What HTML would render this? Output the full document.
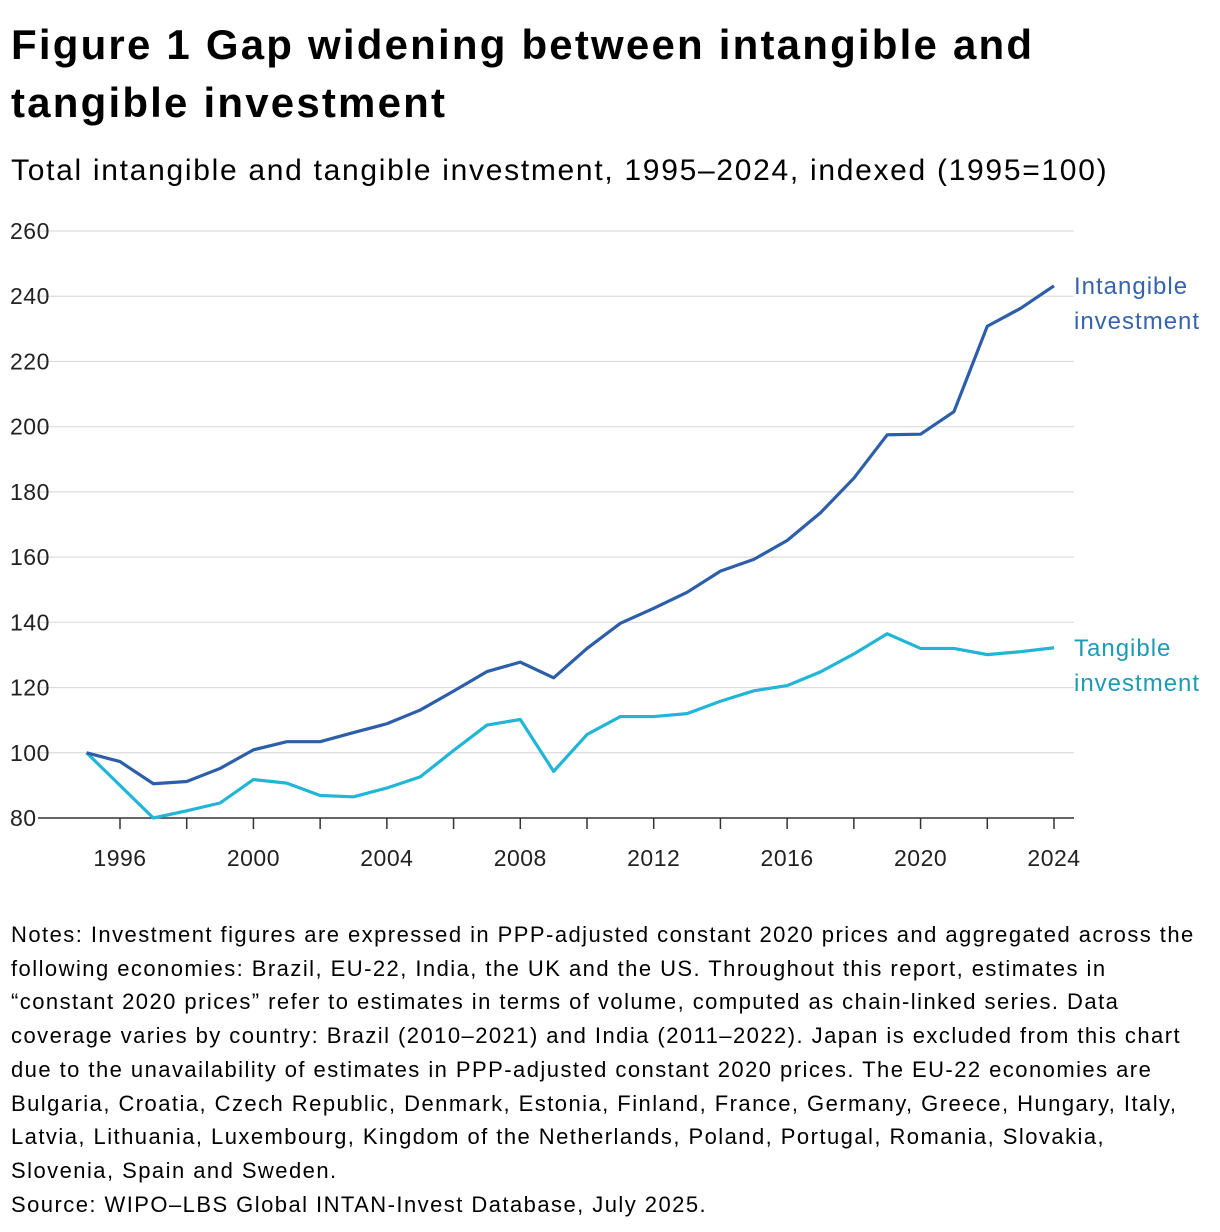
<!DOCTYPE html>
<html><head><meta charset="utf-8"><style>
body{margin:0;background:#fff;width:1220px;height:1232px;overflow:hidden;font-family:"Liberation Sans","DejaVu Sans",sans-serif;color:#000}
#title{position:absolute;left:11px;top:16px;font-size:42px;font-weight:bold;line-height:58px;letter-spacing:2.2px;white-space:nowrap}
#subtitle{position:absolute;left:11px;top:154px;font-size:30px;letter-spacing:1.7px;white-space:nowrap}
#notes{position:absolute;left:11px;top:918px;width:1210px;font-size:22px;line-height:33.7px;letter-spacing:1.45px;white-space:nowrap}
svg{position:absolute;left:0;top:0}
</style></head><body>
<div id="title">Figure 1 Gap widening between intangible and<br>tangible investment</div>
<div id="subtitle">Total intangible and tangible investment, 1995–2024, indexed (1995=100)</div>
<svg id="chart" width="1220" height="900"></svg>
<div id="notes">Notes: Investment figures are expressed in PPP-adjusted constant 2020 prices and aggregated across the<br>following economies: Brazil, EU-22, India, the UK and the US. Throughout this report, estimates in<br>“constant 2020 prices” refer to estimates in terms of volume, computed as chain-linked series. Data<br>coverage varies by country: Brazil (2010–2021) and India (2011–2022). Japan is excluded from this chart<br>due to the unavailability of estimates in PPP-adjusted constant 2020 prices. The EU-22 economies are<br>Bulgaria, Croatia, Czech Republic, Denmark, Estonia, Finland, France, Germany, Greece, Hungary, Italy,<br>Latvia, Lithuania, Luxembourg, Kingdom of the Netherlands, Poland, Portugal, Romania, Slovakia,<br>Slovenia, Spain and Sweden.<br>Source: WIPO–LBS Global INTAN-Invest Database, July 2025.</div>
<script>
const years=[1995,1996,1997,1998,1999,2000,2001,2002,2003,2004,2005,2006,2007,2008,2009,2010,2011,2012,2013,2014,2015,2016,2017,2018,2019,2020,2021,2022,2023,2024];
const intangible=[100,97.3,90.5,91.2,95.2,100.9,103.4,103.4,106.2,108.9,113.1,118.9,124.9,127.8,123,132,139.7,144.3,149.2,155.7,159.3,165.1,173.6,184.2,197.5,197.7,204.6,230.8,236.3,243.2];
const tangible=[100,90,80,82.2,84.6,91.8,90.7,86.9,86.5,89.2,92.6,100.7,108.5,110.2,94.3,105.6,111.1,111.1,112,115.8,119,120.6,124.8,130.3,136.5,132,132,130.1,131,132.2];
const yTicks=[80,100,120,140,160,180,200,220,240,260];
const xLabels=[1996,2000,2004,2008,2012,2016,2020,2024];
const NS="http://www.w3.org/2000/svg";
const svg=document.getElementById('chart');
const x=v=>120+(v-1996)*(1054-120)/28;
const y=v=>818-(v-80)*(818-231)/180;
function el(t,a,p){const e=document.createElementNS(NS,t);for(const k in a)e.setAttribute(k,a[k]);(p||svg).appendChild(e);return e;}
yTicks.forEach(v=>{
 const g=el('line',{x1:38,x2:1074,y1:y(v),y2:y(v),stroke:v===80?'#333':'#dcdcdc','stroke-width':v===80?1.5:1.2});
 
 
 const t=el('text',{x:10,y:y(v)+8,'font-size':23,fill:'#222','letter-spacing':0.5});
 t.textContent=v;
 
 
});
for(let yr=1996;yr<=2024;yr+=2){
 const tk=el('line',{x1:x(yr),x2:x(yr),y1:818,y2:829,stroke:'#333','stroke-width':1.5});
 
 
}
xLabels.forEach(v=>{
 const t=el('text',{x:x(v),y:866,'font-size':23,fill:'#222','text-anchor':'middle','letter-spacing':0.5});
 t.textContent=v;
 
 
});
function line(data,color,name){
 const p=el('polyline',{points:data.map((d,i)=>x(years[i])+','+y(d)).join(' '),fill:'none',stroke:color,'stroke-width':3.2,'stroke-linejoin':'round'});
 
 
}
line(tangible,'#21b5d6','tangible-line');
line(intangible,'#2d5ea9','intangible-line');
function label(lines,yy,color,name){
 const t=el('text',{x:1074,y:yy,'font-size':24,fill:color,'letter-spacing':1});
 lines.forEach((s,i)=>{const ts=el('tspan',{x:1074,dy:i?35:0},t);ts.textContent=s;});
 
 
}
label(['Intangible','investment'],y(intangible[29])+8,'#3563ae','intangible-label');
label(['Tangible','investment'],y(tangible[29])+8,'#1c9bb6','tangible-label');
</script>
</body></html>
